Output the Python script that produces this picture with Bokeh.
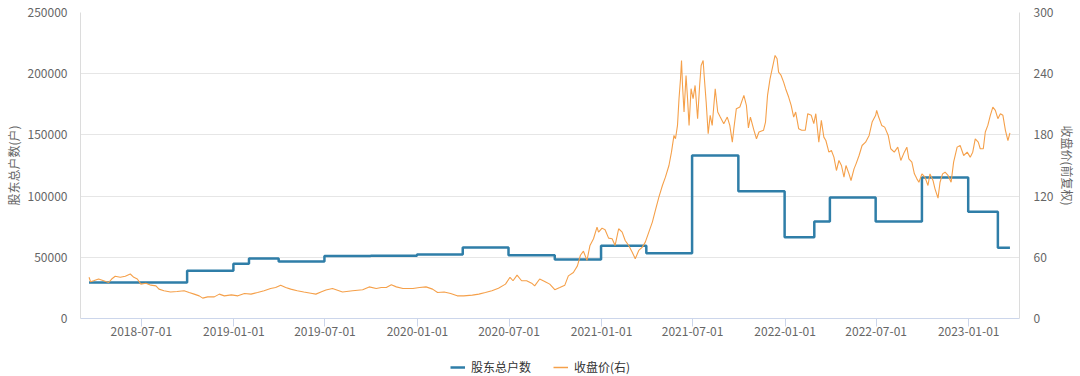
import pandas as pd
from bokeh.plotting import figure
from bokeh.layouts import column
from bokeh.models import (Range1d, LinearAxis, FixedTicker, Legend,
                          DatetimeTickFormatter, BasicTickFormatter)
from bokeh.embed import file_html
from bokeh.resources import INLINE

# ---------------- data ----------------
holder_dates = ["2018-03-19", "2018-09-30", "2018-12-31", "2019-01-31", "2019-03-31",
                "2019-06-30", "2019-09-30", "2019-12-31", "2020-03-31", "2020-06-30",
                "2020-09-30", "2020-12-31", "2021-03-31", "2021-06-30", "2021-09-30",
                "2021-12-31", "2022-02-28", "2022-03-31", "2022-06-30", "2022-09-30",
                "2022-12-31", "2023-02-28", "2023-03-24"]
holder_counts = [29500, 39000, 44700, 49000, 46500,
                 51000, 51300, 52300, 58000, 51700,
                 48200, 59400, 53300, 133200, 104000,
                 66400, 79200, 98900, 79200, 115200,
                 87200, 57800, 57800]

price_dates = [
    "2018-03-19", "2018-03-22", "2018-03-28", "2018-04-07", "2018-04-17", "2018-04-27",
    "2018-05-03", "2018-05-10", "2018-05-20", "2018-05-30", "2018-06-09", "2018-06-16",
    "2018-06-23", "2018-06-30", "2018-07-10", "2018-07-20", "2018-07-30", "2018-08-05",
    "2018-08-15", "2018-08-28", "2018-09-10", "2018-09-24", "2018-10-04", "2018-10-14",
    "2018-10-24", "2018-10-31", "2018-11-10", "2018-11-23", "2018-12-03", "2018-12-13",
    "2018-12-27", "2019-01-09", "2019-01-22", "2019-02-04", "2019-02-17", "2019-03-02",
    "2019-03-15", "2019-03-25", "2019-04-04", "2019-04-14", "2019-04-24", "2019-05-07",
    "2019-05-20", "2019-06-03", "2019-06-13", "2019-06-23", "2019-07-03", "2019-07-16",
    "2019-08-05", "2019-08-25", "2019-09-14", "2019-09-27", "2019-10-11", "2019-10-21",
    "2019-10-31", "2019-11-10", "2019-11-20", "2019-12-03", "2019-12-23", "2020-01-05",
    "2020-01-18", "2020-01-31", "2020-02-10", "2020-02-23", "2020-03-07", "2020-03-20",
    "2020-04-02", "2020-04-19", "2020-05-02", "2020-05-15", "2020-05-28", "2020-06-10",
    "2020-06-24", "2020-07-03", "2020-07-09", "2020-07-17", "2020-07-26", "2020-08-05",
    "2020-08-15", "2020-08-21", "2020-08-31", "2020-09-10", "2020-09-20", "2020-09-30",
    "2020-10-10", "2020-10-20", "2020-10-27", "2020-11-06", "2020-11-14",
    "2020-11-20", "2020-11-26", "2020-12-03", "2020-12-09", "2020-12-16", "2020-12-23",
    "2020-12-26", "2021-01-02", "2021-01-08", "2021-01-15", "2021-01-22", "2021-01-28",
    "2021-02-04", "2021-02-11", "2021-02-17", "2021-02-24", "2021-03-03", "2021-03-09",
    "2021-03-16", "2021-03-23", "2021-03-29", "2021-04-05", "2021-04-12", "2021-04-18",
    "2021-04-25", "2021-05-02", "2021-05-08", "2021-05-15", "2021-05-20", "2021-05-25",
    "2021-05-28", "2021-06-01", "2021-06-04", "2021-06-07", "2021-06-09", "2021-06-11",
    "2021-06-14", "2021-06-18", "2021-06-21", "2021-06-24", "2021-06-28", "2021-07-02",
    "2021-07-06", "2021-07-11", "2021-07-15", "2021-07-18", "2021-07-22", "2021-07-24",
    "2021-07-28", "2021-08-01", "2021-08-05", "2021-08-09", "2021-08-15", "2021-08-20",
    "2021-08-25", "2021-09-01", "2021-09-08", "2021-09-13", "2021-09-18", "2021-09-21",
    "2021-09-26", "2021-10-03", "2021-10-11", "2021-10-16", "2021-10-20", "2021-10-24",
    "2021-10-31", "2021-11-05", "2021-11-10", "2021-11-19", "2021-11-23", "2021-11-27",
    "2021-12-02", "2021-12-07", "2021-12-12", "2021-12-16", "2021-12-19", "2021-12-24",
    "2021-12-29", "2022-01-02", "2022-01-08", "2022-01-13", "2022-01-18", "2022-01-22",
    "2022-01-28", "2022-02-03", "2022-02-10", "2022-02-15", "2022-02-22", "2022-02-27",
    "2022-03-03", "2022-03-09", "2022-03-14", "2022-03-19", "2022-03-23", "2022-03-29",
    "2022-04-03", "2022-04-08", "2022-04-13", "2022-04-18", "2022-04-23", "2022-04-28",
    "2022-05-02", "2022-05-08", "2022-05-12", "2022-05-18", "2022-05-22", "2022-05-28",
    "2022-06-03", "2022-06-10", "2022-06-17", "2022-06-23", "2022-06-30", "2022-07-02",
    "2022-07-06", "2022-07-12", "2022-07-18", "2022-07-25", "2022-07-30", "2022-08-06",
    "2022-08-13", "2022-08-19", "2022-08-26", "2022-08-31", "2022-09-04", "2022-09-10",
    "2022-09-15", "2022-09-20", "2022-09-24", "2022-09-30", "2022-10-06", "2022-10-12",
    "2022-10-16", "2022-10-22", "2022-10-26", "2022-11-01", "2022-11-05", "2022-11-10",
    "2022-11-15", "2022-11-21", "2022-11-27", "2022-12-02", "2022-12-09", "2022-12-15",
    "2022-12-22", "2022-12-29", "2023-01-04", "2023-01-09", "2023-01-14", "2023-01-20",
    "2023-01-24", "2023-01-30", "2023-02-03", "2023-02-08", "2023-02-13", "2023-02-18",
    "2023-02-23", "2023-02-28", "2023-03-05", "2023-03-10", "2023-03-15", "2023-03-20",
    "2023-03-24"]
price_close = [
    40.4, 36.0, 37.0, 38.7, 37.0, 35.3,
    38.7, 41.4, 40.4, 41.4, 43.6, 40.4,
    38.7, 33.7, 34.6, 32.7, 32.0, 28.8,
    27.2, 26.0, 26.4, 27.2, 25.5, 23.9,
    22.2, 20.0, 21.2, 21.2, 23.9, 22.2,
    23.2, 22.2, 24.5, 23.9, 25.5, 27.2,
    29.4, 30.4, 32.7, 30.4, 28.8, 27.2,
    26.0, 24.8, 23.9, 26.0, 28.0, 29.4,
    26.0, 27.2, 28.2, 31.0, 29.4, 30.4,
    30.4, 33.0, 31.0, 29.4, 29.4, 30.4,
    31.0, 28.8, 25.5, 26.0, 24.5, 22.2,
    22.2, 22.9, 23.9, 25.5, 27.2, 29.7,
    33.7, 40.4, 37.0, 42.5, 37.0, 37.0,
    34.6, 32.0, 38.7, 36.3, 33.7, 28.2,
    30.4, 32.7, 41.8, 45.1, 51.6,
    62.0, 66.0, 57.0, 71.6, 78.2, 89.6,
    84.7, 88.6, 87.0, 78.8, 78.2, 71.6,
    88.0, 84.7, 76.5, 71.6, 65.0, 58.5,
    66.7, 70.0, 74.9, 84.7, 94.5, 106.0,
    119.0, 130.4, 138.6, 150.0, 163.1, 179.5,
    176.2, 189.3, 215.5, 235.0, 253.0, 228.5,
    202.4, 238.3, 215.5, 189.3, 225.3, 215.5,
    228.5, 195.9, 228.5, 248.0, 253.0, 238.3,
    212.2, 181.2, 199.2, 189.3, 225.3, 202.4,
    197.5, 191.0, 197.5, 189.3, 172.9, 186.0,
    205.7, 207.3, 218.7, 209.0, 186.9, 197.5,
    184.5, 176.2, 182.8, 184.5, 192.6, 218.7,
    235.0, 246.4, 257.9, 254.6, 241.5, 238.3,
    231.7, 225.3, 217.1, 209.0, 197.5, 202.4,
    186.0, 184.5, 184.5, 200.8, 199.2, 191.0,
    200.8, 172.9, 194.2, 177.8, 174.5, 163.1,
    164.7, 158.2, 145.1, 154.9, 150.0, 138.6,
    150.0, 141.8, 135.3, 146.7, 151.6, 159.8,
    169.6, 172.9, 179.5, 192.6, 199.2, 204.1,
    197.5, 189.3, 187.6, 179.5, 166.4, 163.1,
    168.0, 154.9, 163.1, 168.0, 156.6, 153.3,
    141.8, 136.9, 133.6, 141.8, 138.6, 130.4,
    141.8, 135.3, 127.1, 118.0, 133.6, 141.8,
    143.4, 140.2, 133.6, 153.3, 168.0, 169.6,
    159.8, 163.1, 158.2, 163.1, 176.2, 172.9,
    166.4, 166.4, 182.8, 189.3, 199.2, 207.3,
    204.1, 195.9, 200.8, 199.2, 184.5, 174.5,
    182.0]

x_tick_labels = ["2018-07-01", "2019-01-01", "2019-07-01", "2020-01-01", "2020-07-01",
                 "2021-01-01", "2021-07-01", "2022-01-01", "2022-07-01", "2023-01-01"]
left_ticks = [0, 50000, 100000, 150000, 200000, 250000]
right_ticks = [0, 60, 120, 180, 240, 300]
x_start, x_end = "2018-03-02", "2023-04-12"
series_names = ["股东总户数", "收盘价(右)"]

# ---------------- styling ----------------
FONT = "Noto Sans CJK SC"
BLUE = "#2f7ea8"
ORANGE = "#f5a04a"
LABEL = "#666666"
W = 1080

hx = pd.to_datetime(holder_dates)
px_ = pd.to_datetime(price_dates)

p = figure(width=W, height=350, x_axis_type="datetime",
           output_backend="svg", toolbar_location=None,
           x_range=Range1d(pd.Timestamp(x_start), pd.Timestamp(x_end)),
           y_range=Range1d(0, 250000),
           min_border_left=80, min_border_right=61, min_border_top=12,
           min_border_bottom=32)
p.outline_line_color = None
p.background_fill_color = "white"
p.border_fill_color = "white"

p.extra_y_ranges = {"price": Range1d(0, 300)}

r1 = p.step(x=hx, y=holder_counts, mode="after", line_color=BLUE, line_width=2.5)
r2 = p.line(x=px_, y=price_close, y_range_name="price",
            line_color=ORANGE, line_width=1.1)

# x axis
xax = p.xaxis[0]
xax.ticker = FixedTicker(ticks=[pd.Timestamp(d).value // 10**6 for d in x_tick_labels])
xax.formatter = DatetimeTickFormatter(days="%Y-%m-%d", months="%Y-%m-%d",
                                      years="%Y-%m-%d", hours="%Y-%m-%d")
xax.axis_line_color = "#ccd6eb"
xax.major_tick_line_color = "#ccd6eb"
xax.major_tick_out = 8
xax.major_tick_in = 0
xax.minor_tick_line_color = None
xax.major_label_standoff = 0
xax.major_label_text_font = FONT
xax.major_label_text_font_size = "12px"
xax.major_label_text_color = LABEL

# left axis
yax = p.yaxis[0]
yax.ticker = FixedTicker(ticks=left_ticks)
yax.formatter = BasicTickFormatter(use_scientific=False)
yax.axis_label = "股东总户数(户)"
yax.axis_line_color = "#dcdcdc"
yax.major_tick_line_color = None
yax.minor_tick_line_color = None
yax.major_tick_out = 0
yax.major_label_standoff = 13
yax.axis_label_standoff = 3
yax.major_label_text_font = FONT
yax.major_label_text_font_size = "12px"
yax.major_label_text_color = LABEL
yax.axis_label_text_font = FONT
yax.axis_label_text_font_size = "12px"
yax.axis_label_text_font_style = "normal"
yax.axis_label_text_color = LABEL

# right axis
rax = LinearAxis(y_range_name="price", ticker=FixedTicker(ticks=right_ticks),
                 axis_label="收盘价(前复权)")
rax.axis_line_color = "#dcdcdc"
rax.major_tick_line_color = None
rax.minor_tick_line_color = None
rax.major_tick_out = 0
rax.major_label_standoff = 14
rax.axis_label_standoff = 3
rax.major_label_text_font = FONT
rax.major_label_text_font_size = "12px"
rax.major_label_text_color = LABEL
rax.axis_label_text_font = FONT
rax.axis_label_text_font_size = "12px"
rax.axis_label_text_font_style = "normal"
rax.axis_label_text_color = LABEL
p.add_layout(rax, "right")

p.xgrid.visible = False
p.ygrid.ticker = FixedTicker(ticks=left_ticks)
p.ygrid.grid_line_color = "#e6e6e6"

# legend strip below the chart (its renderers use the same series, kept out of view)
leg = figure(width=W, height=26, output_backend="svg", toolbar_location=None,
             x_range=Range1d(0, 1), y_range=Range1d(0, 1),
             x_axis_location=None, y_axis_location=None, min_border=0)
leg.outline_line_color = None
leg.grid.visible = False
l1 = leg.step(x=hx, y=holder_counts, mode="after", line_color=BLUE, line_width=2.5)
l2 = leg.line(x=px_, y=price_close, line_color=ORANGE, line_width=1.5)
legend = Legend(items=[(series_names[0], [l1]), (series_names[1], [l2])],
                orientation="horizontal", location=(370, 1))
legend.label_text_font = FONT
legend.label_text_font_size = "12px"
legend.label_text_color = "#333333"
legend.glyph_width = 15
legend.glyph_height = 12
legend.label_standoff = 6
legend.spacing = 22
legend.padding = 0
legend.margin = 0
legend.border_line_color = None
legend.background_fill_alpha = 0
leg.add_layout(legend, "center")

layout = column(p, leg, spacing=0)
open("out.html", "w").write(file_html(layout, INLINE))
